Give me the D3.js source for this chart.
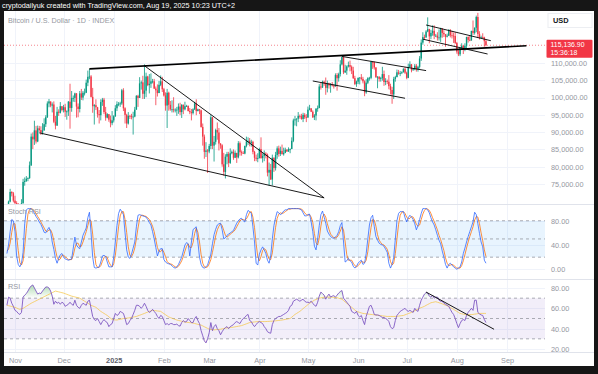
<!DOCTYPE html>
<html>
<head>
<meta charset="utf-8">
<script src="https://cdn.jsdelivr.net/npm/d3@7"></script>
<style>
  body { margin: 0; background: #161616; }
  text { font-family: "Liberation Sans", Arial, sans-serif; }
</style>
</head>
<body>
<div id="chart"></div>
<script>
const width = 598;
const height = 374;

// daily candles from 2024-10-27, prices in thousands of USD, open = previous close
const startDay = "2024-10-27";
const firstOpen = 67.0;
const closes = [
  68.0,69.9,72.7,72.3,70.2,
  69.5,69.3,68.8,67.8,69.4,75.6,75.9,76.5,76.7,80.4,88.7,87.9,90.5,87.3,91.1,90.6,89.8,90.5,92.3,94.3,98.3,98.9,97.7,98.0,93.0,91.9,95.9,95.6,97.5,96.4,
  97.2,95.9,96.0,98.8,97.0,99.9,99.9,101.2,97.4,96.7,101.2,100.0,101.4,101.4,104.3,106.0,106.1,100.2,97.5,97.8,97.2,95.2,94.9,98.7,99.4,95.8,94.2,95.2,93.6,92.6,93.4,
  94.6,96.9,98.1,98.2,98.3,102.1,96.9,95.0,92.5,94.7,94.6,94.5,94.5,96.5,100.5,99.9,104.1,104.4,101.1,102.0,106.1,103.6,104.0,104.7,104.7,102.6,102.1,101.3,103.7,104.7,102.4,
  100.6,97.7,101.4,97.9,96.6,96.6,96.5,96.5,96.5,97.4,95.8,97.9,96.6,97.5,97.6,96.1,95.8,95.5,96.6,98.3,96.1,96.6,96.3,91.5,88.7,84.3,84.7,84.4,
  86.0,94.3,86.1,87.2,90.6,89.9,86.7,86.2,80.7,78.5,82.9,83.7,81.1,83.9,84.3,82.6,84.0,82.7,86.8,84.2,84.0,83.8,86.0,87.3,87.5,86.9,87.2,84.3,82.6,82.3,82.5,
  85.1,82.5,83.1,83.8,83.5,78.3,79.1,76.3,82.6,79.6,83.4,85.3,83.7,84.6,83.6,84.0,84.9,84.4,85.1,85.1,87.5,93.4,93.7,93.9,94.7,94.6,93.8,95.0,94.3,94.2,
  96.5,96.9,95.9,94.3,94.8,96.8,97.0,103.2,102.9,104.6,104.1,102.8,104.1,103.5,103.7,103.5,103.2,106.5,105.6,106.8,109.6,111.7,107.3,107.8,109.0,109.4,108.9,107.8,105.6,103.9,104.6,
  105.7,105.8,105.4,104.7,101.5,104.3,105.6,105.7,110.3,110.2,108.7,105.9,106.0,105.4,105.6,106.8,104.5,104.8,104.6,103.3,102.2,100.9,105.4,105.9,107.3,106.9,107.1,107.3,108.3,107.2,
  105.7,108.8,109.6,107.9,108.2,109.2,108.2,108.9,111.3,115.9,117.5,117.4,119.1,119.8,117.7,118.7,119.3,117.9,117.9,117.3,117.4,119.9,118.7,118.3,117.6,117.9,119.4,118.0,117.9,117.8,115.8,
  113.3,112.5,114.2,115.0,114.1,115.0,117.5,116.7,116.5,119.3,118.7,120.2,123.3,118.4,117.4,117.5,117.4,116.3,115.1369
];
const highs = [
  68.3,70.2,73.6,72.9,72.7,
  71.6,70.0,69.4,69.0,70.6,76.5,76.9,77.3,76.9,81.5,89.6,89.9,93.3,91.8,91.9,91.8,91.7,92.6,94.0,94.9,98.9,99.6,98.8,98.6,98.9,94.7,97.3,96.6,98.7,97.5,
  97.9,98.2,96.3,99.0,104.0,101.9,100.6,101.4,101.3,98.3,101.9,102.5,101.9,102.6,105.2,107.8,108.3,106.5,102.8,98.1,99.5,97.3,96.4,99.5,99.9,99.9,97.3,95.5,95.2,94.8,96.1,
  94.9,97.8,98.9,98.7,98.8,102.5,102.7,97.2,95.3,95.8,95.0,95.3,95.9,97.3,100.7,100.8,105.9,104.9,106.3,109.6,107.2,106.3,106.8,107.0,105.4,105.4,103.2,103.8,104.8,106.4,106.0,
  102.8,101.5,102.5,101.7,99.0,99.2,100.1,96.9,97.3,98.3,98.5,98.1,98.0,98.8,97.9,97.7,97.0,96.7,96.9,98.8,99.5,96.8,96.7,96.5,92.5,89.3,87.1,85.1,
  86.6,95.0,94.4,88.9,91.0,92.8,91.2,86.8,86.5,84.0,83.6,84.3,84.3,85.3,84.7,85.0,84.7,84.0,87.4,87.3,84.7,84.5,86.1,88.7,88.5,88.3,87.8,87.5,84.6,83.5,83.9,
  85.5,88.5,83.9,84.7,84.2,83.8,81.2,80.8,83.5,82.7,84.3,85.9,86.1,85.8,86.4,85.5,85.5,85.1,85.6,85.3,88.5,93.9,94.7,94.0,95.8,95.1,95.3,95.6,95.5,95.2,
  97.4,97.9,96.9,96.3,95.2,96.9,97.7,103.9,104.3,104.9,104.9,105.8,104.9,104.3,104.2,104.5,103.8,107.0,107.1,107.2,110.8,111.9,111.9,109.5,109.3,110.4,110.7,109.3,108.9,106.3,104.9,
  105.8,105.9,106.8,106.0,105.0,105.3,105.9,106.0,110.6,110.4,110.4,108.8,106.2,106.2,106.0,108.9,107.8,105.6,105.2,106.5,104.0,103.1,106.0,106.3,108.1,108.0,107.7,107.6,108.5,108.8,
  107.5,109.8,110.5,109.7,108.4,109.7,109.7,109.2,112.0,116.8,118.9,118.2,119.5,123.2,119.9,119.6,120.9,120.9,118.4,118.9,119.7,120.2,120.1,119.5,118.4,118.5,119.8,119.8,119.3,118.8,118.9,
  116.1,114.0,114.7,115.7,115.1,115.7,117.6,117.7,117.9,119.3,122.3,120.3,123.7,124.5,119.2,117.9,118.6,117.6,116.8
];
const lows = [
  66.8,67.6,69.7,71.4,69.7,
  68.8,69.0,67.5,66.8,67.4,69.4,74.5,75.6,75.8,76.5,80.2,85.1,86.3,86.7,87.1,90.1,89.2,89.3,90.4,91.5,94.1,97.2,97.2,95.7,92.6,90.8,91.8,94.7,95.4,96.0,
  95.7,94.4,93.6,94.7,91.0,95.9,98.8,98.7,94.2,94.3,95.7,99.3,99.2,100.6,101.3,103.3,105.3,100.0,95.6,92.2,96.4,94.2,92.5,93.4,97.6,95.2,93.3,94.0,93.0,91.4,92.0,
  92.8,94.4,96.1,97.5,97.3,97.9,96.1,92.5,91.2,92.2,93.8,93.7,89.3,94.3,96.5,97.3,99.9,102.3,99.6,99.6,100.1,103.3,101.2,102.8,104.1,102.5,97.8,100.3,101.3,103.3,101.6,
  100.3,96.2,91.2,96.2,96.2,95.7,95.7,95.7,94.7,95.3,94.9,94.1,95.2,96.3,97.3,96.0,95.2,93.4,95.1,96.4,94.9,96.0,95.2,91.3,86.1,82.3,82.8,78.2,
  83.9,85.1,85.1,81.5,86.4,87.8,84.7,85.2,80.0,77.4,76.6,80.7,79.9,80.8,83.6,82.0,82.5,81.1,82.4,83.2,83.2,83.7,83.6,85.6,86.3,85.9,85.8,83.6,81.6,81.6,81.3,
  82.4,82.3,81.2,81.6,82.4,77.2,74.5,76.2,74.6,78.5,78.9,82.3,82.9,83.1,83.6,83.2,83.9,84.3,84.3,83.9,85.2,87.1,91.9,91.7,92.9,93.9,93.6,92.9,93.8,92.9,
  94.2,96.3,95.8,94.1,93.5,93.4,95.9,96.9,102.3,102.8,103.4,100.8,101.5,102.6,101.4,103.2,102.6,103.2,102.0,104.6,106.1,109.3,106.8,107.1,106.6,108.7,107.6,106.8,105.4,103.6,103.1,
  103.9,103.8,105.0,104.1,100.4,101.1,103.9,104.9,105.3,108.3,108.1,105.7,102.7,104.6,104.6,104.9,103.4,103.6,103.9,102.4,100.9,98.2,99.6,104.6,105.9,106.6,106.2,106.8,107.3,106.8,
  105.3,105.6,108.6,107.3,107.8,107.9,107.5,107.5,108.4,110.6,115.3,116.9,117.3,118.9,115.7,116.9,117.9,116.9,117.5,116.5,116.5,116.1,117.3,117.5,114.7,117.4,117.8,117.4,117.1,115.8,115.5,
  112.7,112.0,112.0,114.1,112.6,113.4,114.3,115.9,116.3,116.5,118.1,118.2,118.9,117.2,116.8,117.2,117.2,114.7,114.8
];

// Stoch RSI (%K blue, %D orange), one value per candle
const stochK = [
  26,40,62,82,80,62,22,8,4,10, 28,75,98,100,100,100,97,92,87,83, 78,74,68,61,60,65,69,62,45,33,
  18,10,18,24,26,20,17,16,15,16, 17,35,53,40,36,34,45,56,62,68, 85,94,60,20,3,2,3,4,12,22,
  23,21,12,4,4,4,20,45,72,92, 99,95,90,60,32,20,18,25,35,45, 70,89,90,89,88,87,86,82,77,73,
  62,50,36,22,30,34,34,16,12,10, 9,8,6,3,2,4,8,14,20,30, 40,44,42,22,45,65,68,70,45,20,
  8,3,2,4,7,16,25,42,57,66, 73,75,76,65,50,52,56,58,60,62, 64,70,76,80,83,84,80,78,90,97,
  95,92,70,45,10,7,25,32,37,32, 26,15,10,22,50,72,85,95,93,90, 92,96,98,98,100,100,100,100,100,100,
  100,99,98,93,88,88,90,91,78,62, 38,32,50,72,90,96,86,76,63,58, 54,52,51,53,56,62,72,77,45,12,
  14,18,14,12,5,2,5,10,13,15, 8,10,26,50,73,85,89,70,54,48, 43,41,40,38,33,28,10,2,8,20,
  50,80,92,95,95,95,85,78,85,89, 86,82,75,65,72,82,92,100,100,100, 98,93,85,78,73,65,56,48,42,30,
  20,8,2,8,10,7,4,2,0,2, 4,12,26,35,45,54,62,70,78,94, 90,75,59,45,37,15,10
];
const stochD = [
  30,33,43,61,75,75,55,31,11,7, 14,38,67,91,99,100,99,96,92,87, 83,78,73,68,63,62,65,65,59,47,
  32,20,15,17,23,23,21,18,16,16, 16,23,35,43,43,37,38,45,54,62, 72,82,80,58,28,8,3,3,6,13,
  19,22,19,12,7,4,9,23,46,70, 88,95,95,82,61,37,23,21,26,35, 50,68,83,89,89,88,87,85,82,77,
  71,62,49,36,29,29,33,28,21,13, 10,9,8,6,4,3,5,9,14,21, 30,38,42,36,36,44,59,68,61,45,
  24,10,4,3,4,9,16,28,41,55, 65,71,75,72,64,56,53,55,58,60, 62,65,70,75,80,82,82,81,83,88,
  94,95,86,69,42,21,14,21,31,34, 32,24,17,16,27,48,69,84,91,93, 92,93,95,97,99,99,100,100,100,100,
  100,100,99,97,93,90,89,90,86,77, 59,44,40,51,71,86,91,86,75,66, 58,55,52,52,53,57,63,70,65,45,
  24,15,15,15,10,6,4,6,9,13, 12,11,15,29,50,69,82,81,71,57, 48,44,41,40,37,33,24,13,7,10,
  26,50,74,89,94,95,92,86,83,84, 87,86,81,74,71,73,82,91,97,100, 99,97,92,85,79,72,65,56,49,40,
  31,19,10,6,7,8,7,4,2,2, 2,6,14,24,35,45,54,62,70,81, 87,86,75,60,47,32,21
];

// RSI (purple) and its moving average (yellow)
const rsi = [
  63,71,70,65,62,58,57,55,54,56, 71,73,74.5,77,80,82,83,80,77,74, 75,74.5,77,79,81,81,80,77,72,64,
  67,65,66,64,66,65,62,63,64,66, 64,63,68,63,61,60,63,65,64,63, 67,68,60,52,49,48,50,47,44,47,
  49,47,46,42,44,45,50,55,53,54, 57,56,55,50,44,45,48,50,54,58, 63,63,62,60,62,65,62,58,56,57,
  59,57,55,52,50,53,52,48,44,45, 43.8,45,45,44,44,44.5,43,42.5,46,48, 46.5,47,50,48,46,46,50,52,48,45,
  38,33,28,26,30,36,46,38,42,44, 40,38,34,37,39.5,41,42,40,42,43, 44,46,47,46,45,48,50,51,53,54,
  48,47,44,42,44,46,47,46,45,42, 40,37,36,35.5,44,48,50,51,52,52, 53,54,55,56,58,62,63,67,68,69,
  68,67,68,69,67,66,66,65.5,67,65, 63,62,66,72,76,74.5,73,69,72,74, 71,72,72.5,71,73,75,76.5,77.5,70,68,
  66,64,62,57,56,55,57,53,51.5,53, 48,44,52,57,62,63,59,54,53.5,53.5, 53,52,51,51,50,49,47,42,40,41,
  48,53,55,57,58,59,60,58,57,58, 57,56,60,58,57,63,68,71,74,75.5, 75,72,71,73,70,71,71,68,67,67,
  65,64,63,62,59,56,54,50,45,41, 45,48,49,48,53,56,58,60,58,68, 68,56,54.5,53.5,53,49,46
];
const rsiMa = [
  63,62.6,62.2,61.8,61.4,61,60.3,59.6,59,59.5, 60,61,62,63,64,65,65.8,66.6,67.4,68.2,
  69,69.8,70.6,71.4,72.2,73,73.8,74.6,75.4,76.2, 77,76.6,76.2,75.8,75.4,75,74.4,73.8,73.2,72.6,
  72,71.6,71.2,70.8,70.4,70,69,68,67,66, 65,64,63,62.3,61.7,61,59.7,58.3,57,56,
  55,54,53,51.7,50.3,49,48.8,48.6,48.5,48.9, 49.2,49.6,50,50.2,50.3,50.5,50.8,51.1,51.4,51.7,
  52,52.6,53.2,53.8,54.4,55,55.7,56.3,57,57.5, 58,57.8,57.6,57.4,57.2,57,55.9,54.8,53.7,52.6,
  51.5,50.9,50.3,49.7,49.1,48.5,48.1,47.7,47.3,46.9, 46.5,46.3,46.1,45.9,45.7,45.5,45.1,44.7,44.3,43.9,
  43.5,42.7,41.9,41.1,40.3,39.5,39.3,39,38.8,39, 39.1,39.3,39.5,39.8,40.2,40.5,40.7,40.9,41.1,41.3,
  41.5,41.8,42.1,42.4,42.7,43,43.6,44.2,44.8,45.4, 46,46.2,46.4,46.6,46.8,47,47,47,47,47,
  47,47.1,47.2,47.3,47.4,47.5,47.7,47.9,48.1,48.3, 48.5,48.8,49.1,49.4,49.7,50,51.3,52.7,54,55,
  56,57,58.3,59.7,61,62.3,63.7,65,66,67, 68,68.7,69.3,70,70.3,70.7,71,71,71,71,
  71,70.9,70.8,70.6,70.5,70,69.5,69,67.7,66.3, 65,63.7,62.3,61,59.7,58.3,57,56.5,56,55.5,
  55,54.8,54.6,54.4,54.2,54,53.8,53.6,53.4,53.2, 53,52.8,52.6,52.4,52.2,52,52,52,52,52,
  52,52.2,52.4,52.6,52.8,53,53.6,54.2,54.8,55.4, 56,56.8,57.6,58.4,59.2,60,60.7,61.3,62,62.9,
  63.8,64.6,65.5,65.8,66.2,66.5,66,65.5,65,64.4, 63.7,63.1,62.5,61.6,60.8,59.9,59,58,57,56,
  55,54.6,54.3,53.9,53.5,53.6,53.8,53.9,54,54.3, 54.5,54.8,55,55,55,55,55
];

const priceTicks = [75, 80, 85, 90, 95, 100, 105, 110];
const stochTicks = [0, 40, 80];
const rsiTicks = [20, 40, 60, 80];
const monthDays = ["2024-11-01","2024-12-01","2025-01-01","2025-02-01","2025-03-01","2025-04-01",
                   "2025-05-01","2025-06-01","2025-07-01","2025-08-01","2025-09-01"];
const monthLabels = ["Nov","Dec","2025","Feb","Mar","Apr","May","Jun","Jul","Aug","Sep"];

// drawn trend lines: [day, price in thousands]
const priceLines = [
  [["2024-12-17", 108.3], ["2025-09-13", 115.0]],
  [["2025-01-20", 109.2], ["2025-05-11", 71.0]],
  [["2024-11-16", 89.8], ["2025-05-11", 71.0]],
  [["2025-05-22", 111.9], ["2025-07-13", 107.8]],
  [["2025-05-04", 104.8], ["2025-06-30", 99.8]],
  [["2025-07-13", 121.0], ["2025-08-22", 116.45]],
  [["2025-07-11", 116.9], ["2025-08-20", 112.6]]
];
const rsiLines = [
  [["2025-07-13", 76], ["2025-08-24", 39.4]]
];

const parseDay = d3.timeParse("%Y-%m-%d");
const start = parseDay(startDay);
const days = closes.map((c, i) => d3.timeDay.offset(start, i));
const candles = closes.map((c, i) => ({
  date: days[i],
  open: i === 0 ? firstOpen : closes[i - 1],
  high: highs[i],
  low: lows[i],
  close: c
}));

const plotLeft = 4, plotRight = 545;
const mainTop = 11, mainBottom = 204;
const stochTop = 205, stochBottom = 279;
const rsiTop = 280, rsiBottom = 352;

const x = d3.scaleTime()
  .domain([parseDay("2024-11-01"), parseDay("2025-09-01")])
  .range([15, 507]);
const y = d3.scaleLinear().domain([75, 110]).range([184, 63]);
const yStoch = d3.scaleLinear().domain([0, 100]).range([269.3, 208.6]);
const yRsi = d3.scaleLinear().domain([20, 80]).range([349, 288]);

const svg = d3.select("#chart")
  .append("svg")
  .attr("width", width)
  .attr("height", height);

svg.append("rect").attr("width", width).attr("height", height).attr("fill", "#161616");
svg.append("rect").attr("x", 4).attr("y", 11).attr("width", 590).attr("height", 355).attr("fill", "#ffffff");

const defs = svg.append("defs");
function clip(id, y0, y1) {
  defs.append("clipPath").attr("id", id)
    .append("rect").attr("x", plotLeft).attr("y", y0).attr("width", plotRight - plotLeft).attr("height", y1 - y0);
}
clip("clipMain", mainTop, mainBottom);
clip("clipStoch", stochTop, stochBottom);
clip("clipRsi", rsiTop, rsiBottom);

// header
svg.append("text")
  .attr("x", 2).attr("y", 8)
  .attr("fill", "#ffffff").attr("font-size", 7.4)
  .attr("textLength", 233).attr("lengthAdjust", "spacingAndGlyphs")
  .text("cryptodailyuk created with TradingView.com, Aug 19, 2025 10:23 UTC+2");

// grid
const grid = svg.append("g").attr("stroke", "#f0f3fa").attr("stroke-width", 1);
grid.selectAll(".v").data(monthDays).enter().append("line")
  .attr("x1", d => Math.round(x(parseDay(d))) + 0.5).attr("x2", d => Math.round(x(parseDay(d))) + 0.5)
  .attr("y1", mainTop).attr("y2", rsiBottom);
grid.selectAll(".h").data(priceTicks).enter().append("line")
  .attr("x1", plotLeft).attr("x2", plotRight)
  .attr("y1", d => Math.round(y(d)) + 0.5).attr("y2", d => Math.round(y(d)) + 0.5);
grid.selectAll(".hs").data(stochTicks).enter().append("line")
  .attr("x1", plotLeft).attr("x2", plotRight)
  .attr("y1", d => Math.round(yStoch(d)) + 0.5).attr("y2", d => Math.round(yStoch(d)) + 0.5);
grid.selectAll(".hr").data(rsiTicks).enter().append("line")
  .attr("x1", plotLeft).attr("x2", plotRight)
  .attr("y1", d => Math.round(yRsi(d)) + 0.5).attr("y2", d => Math.round(yRsi(d)) + 0.5);

// pane separators
const sep = svg.append("g").attr("stroke", "#e0e3eb").attr("stroke-width", 1);
[mainBottom, stochBottom, rsiBottom].forEach(v => {
  sep.append("line").attr("x1", plotLeft).attr("x2", 594).attr("y1", v + 0.5).attr("y2", v + 0.5);
});

// main pane
const main = svg.append("g").attr("clip-path", "url(#clipMain)");
const lastClose = closes[closes.length - 1];

main.append("line")
  .attr("x1", plotLeft).attr("x2", plotRight)
  .attr("y1", y(lastClose)).attr("y2", y(lastClose))
  .attr("stroke", "#f23645").attr("stroke-width", 1).attr("stroke-dasharray", "1,2").attr("opacity", 0.6);

const up = "#089981", down = "#f23645";
main.append("g").selectAll("line")
  .data(candles).enter().append("line")
  .attr("x1", d => x(d.date)).attr("x2", d => x(d.date))
  .attr("y1", d => y(d.high)).attr("y2", d => y(d.low))
  .attr("stroke", d => d.close >= d.open ? up : down)
  .attr("stroke-width", 0.8);
main.append("g").selectAll("rect")
  .data(candles).enter().append("rect")
  .attr("x", d => x(d.date) - 0.7)
  .attr("width", 1.4)
  .attr("y", d => y(Math.max(d.open, d.close)))
  .attr("height", d => Math.max(0.8, Math.abs(y(d.open) - y(d.close))))
  .attr("fill", d => d.close >= d.open ? up : down);

main.append("g").selectAll("line")
  .data(priceLines).enter().append("line")
  .attr("x1", d => x(parseDay(d[0][0]))).attr("y1", d => y(d[0][1]))
  .attr("x2", d => x(parseDay(d[1][0]))).attr("y2", d => y(d[1][1]))
  .attr("stroke", "#000000")
  .attr("stroke-width", (d, i) => i === 0 ? 1.6 : 0.9);

svg.append("text")
  .attr("x", 8).attr("y", 22.5)
  .attr("fill", "#9598a1").attr("font-size", 7.2)
  .text("Bitcoin / U.S. Dollar · 1D · INDEX");

// price axis
const priceAxis = svg.append("g")
  .attr("transform", `translate(${plotRight},0)`)
  .call(d3.axisRight(y).tickValues(priceTicks).tickSize(0).tickPadding(6)
    .tickFormat(d => d3.format(",.2f")(d * 1000)));
priceAxis.select(".domain").remove();
priceAxis.selectAll("text").attr("fill", "#9598a1").attr("font-size", 7.3)
  .attr("font-family", "Liberation Sans, Arial, sans-serif");

svg.append("rect").attr("x", 548).attr("y", 13.5).attr("width", 44).attr("height", 14)
  .attr("fill", "#ffffff").attr("stroke", "#eceef2");
svg.append("text").attr("x", 553).attr("y", 23.3)
  .attr("fill", "#131722").attr("font-size", 7.4).attr("font-weight", "bold").text("USD");

const lastY = y(lastClose);
svg.append("rect").attr("x", 546.5).attr("y", lastY - 5.5).attr("width", 46).attr("height", 18)
  .attr("fill", "#f23645").attr("rx", 1);
svg.append("text").attr("x", 550.5).attr("y", lastY + 1.8)
  .attr("fill", "#ffffff").attr("font-size", 6.9)
  .text(d3.format(",.2f")(lastClose * 1000));
svg.append("text").attr("x", 550.5).attr("y", lastY + 10.2)
  .attr("fill", "#ffffff").attr("font-size", 6.9).text("15:36:18");

// Stoch RSI pane
const stoch = svg.append("g").attr("clip-path", "url(#clipStoch)");
stoch.append("rect")
  .attr("x", plotLeft).attr("width", plotRight - plotLeft)
  .attr("y", yStoch(80)).attr("height", yStoch(20) - yStoch(80))
  .attr("fill", "rgba(33,150,243,0.1)");
stoch.selectAll(".lvl").data([80, 50, 20]).enter().append("line")
  .attr("x1", plotLeft).attr("x2", plotRight)
  .attr("y1", d => yStoch(d)).attr("y2", d => yStoch(d))
  .attr("stroke", "#9598a1").attr("stroke-width", 0.8).attr("stroke-dasharray", "3,3");
const stochLine = d3.line().x((d, i) => x(days[i])).y(d => yStoch(d));
stoch.append("path").datum(stochD).attr("d", stochLine)
  .attr("fill", "none").attr("stroke", "#ff6d00").attr("stroke-width", 0.9).attr("opacity", 0.85);
stoch.append("path").datum(stochK).attr("d", stochLine)
  .attr("fill", "none").attr("stroke", "#2962ff").attr("stroke-width", 0.9).attr("opacity", 0.85);
svg.append("text").attr("x", 8).attr("y", 213.5)
  .attr("fill", "#9598a1").attr("font-size", 7.3).text("Stoch RSI");

const stochAxis = svg.append("g")
  .attr("transform", `translate(${plotRight},0)`)
  .call(d3.axisRight(yStoch).tickValues(stochTicks).tickSize(0).tickPadding(6).tickFormat(d3.format(".2f")));
stochAxis.select(".domain").remove();
stochAxis.selectAll("text").attr("fill", "#9598a1").attr("font-size", 7.3)
  .attr("font-family", "Liberation Sans, Arial, sans-serif");

// RSI pane
const rsiG = svg.append("g").attr("clip-path", "url(#clipRsi)");
rsiG.append("rect")
  .attr("x", plotLeft).attr("width", plotRight - plotLeft)
  .attr("y", yRsi(70)).attr("height", yRsi(30) - yRsi(70))
  .attr("fill", "rgba(126,87,194,0.1)");
rsiG.selectAll(".lvl").data([70, 50, 30]).enter().append("line")
  .attr("x1", plotLeft).attr("x2", plotRight)
  .attr("y1", d => yRsi(d)).attr("y2", d => yRsi(d))
  .attr("stroke", "#9598a1").attr("stroke-width", 0.8).attr("stroke-dasharray", "3,3");

const ob = defs.append("linearGradient").attr("id", "ob").attr("gradientUnits", "userSpaceOnUse")
  .attr("x1", 0).attr("x2", 0).attr("y1", yRsi(100)).attr("y2", yRsi(70));
ob.append("stop").attr("offset", 0).attr("stop-color", "#4caf50").attr("stop-opacity", 1);
ob.append("stop").attr("offset", 1).attr("stop-color", "#4caf50").attr("stop-opacity", 0);
const os = defs.append("linearGradient").attr("id", "os").attr("gradientUnits", "userSpaceOnUse")
  .attr("x1", 0).attr("x2", 0).attr("y1", yRsi(0)).attr("y2", yRsi(30));
os.append("stop").attr("offset", 0).attr("stop-color", "#f23645").attr("stop-opacity", 1);
os.append("stop").attr("offset", 1).attr("stop-color", "#f23645").attr("stop-opacity", 0);

rsiG.append("path").datum(rsi)
  .attr("d", d3.area().x((d, i) => x(days[i])).y0(yRsi(70)).y1(d => yRsi(Math.max(d, 70))))
  .attr("fill", "url(#ob)");
rsiG.append("path").datum(rsi)
  .attr("d", d3.area().x((d, i) => x(days[i])).y0(yRsi(30)).y1(d => yRsi(Math.min(d, 30))))
  .attr("fill", "url(#os)");

const rsiLine = d3.line().x((d, i) => x(days[i])).y(d => yRsi(d));
rsiG.append("path").datum(rsiMa).attr("d", rsiLine)
  .attr("fill", "none").attr("stroke", "#f5c542").attr("stroke-width", 0.9).attr("opacity", 0.8);
rsiG.append("path").datum(rsi).attr("d", rsiLine)
  .attr("fill", "none").attr("stroke", "#7e57c2").attr("stroke-width", 0.9);
rsiG.append("g").selectAll("line")
  .data(rsiLines).enter().append("line")
  .attr("x1", d => x(parseDay(d[0][0]))).attr("y1", d => yRsi(d[0][1]))
  .attr("x2", d => x(parseDay(d[1][0]))).attr("y2", d => yRsi(d[1][1]))
  .attr("stroke", "#000000").attr("stroke-width", 0.9);
svg.append("text").attr("x", 8).attr("y", 288.5)
  .attr("fill", "#9598a1").attr("font-size", 7.3).text("RSI");

const rsiAxis = svg.append("g")
  .attr("transform", `translate(${plotRight},0)`)
  .call(d3.axisRight(yRsi).tickValues(rsiTicks).tickSize(0).tickPadding(6).tickFormat(d3.format(".2f")));
rsiAxis.select(".domain").remove();
rsiAxis.selectAll("text").attr("fill", "#9598a1").attr("font-size", 7.3)
  .attr("font-family", "Liberation Sans, Arial, sans-serif");

// time axis
const timeAxis = svg.append("g")
  .attr("transform", `translate(0,${rsiBottom})`)
  .call(d3.axisBottom(x).tickValues(monthDays.map(parseDay)).tickSize(0).tickPadding(6)
    .tickFormat((d, i) => monthLabels[i]));
timeAxis.select(".domain").remove();
timeAxis.selectAll("text")
  .attr("fill", (d, i) => monthLabels[i] === "2025" ? "#5d606b" : "#9598a1")
  .attr("font-weight", (d, i) => monthLabels[i] === "2025" ? "bold" : "normal")
  .attr("font-size", 7.3)
  .attr("font-family", "Liberation Sans, Arial, sans-serif");
</script>
</body>
</html>
